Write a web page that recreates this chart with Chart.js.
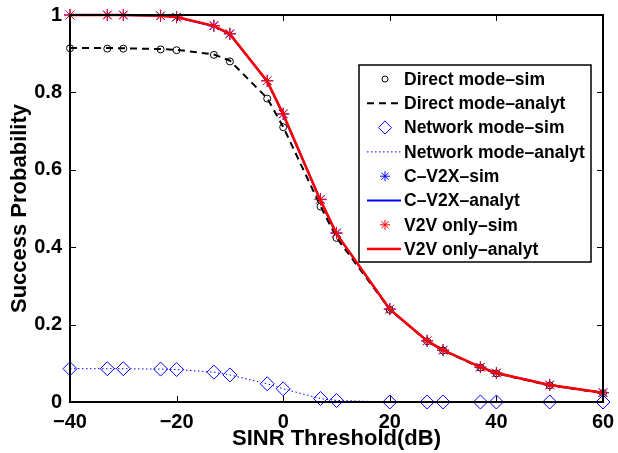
<!DOCTYPE html>
<html>
<head>
<meta charset="utf-8">
<script src="https://cdn.jsdelivr.net/npm/chart.js@4.4.0/dist/chart.umd.min.js"></script>
<style>
  html, body { margin: 0; padding: 0; background: #fff; }
  #wrap { width: 618px; height: 453px; }
</style>
</head>
<body>
<div id="wrap"><canvas id="mycanvas" width="618" height="453"></canvas></div>
<script>
// SINR threshold (dB)
var sinr = [-40, -33, -30, -23, -20, -13, -10, -3, 0, 7, 10, 20, 27, 30, 37, 40, 50, 60];

var directSim    = [0.914, 0.913, 0.913, 0.911, 0.909, 0.897, 0.880, 0.784, 0.710, 0.505, 0.424, 0.238, 0.157, 0.133, 0.089, 0.074, 0.043, 0.023];
var directAnalyt = [0.915, 0.915, 0.914, 0.912, 0.910, 0.898, 0.882, 0.785, 0.711, 0.506, 0.425, 0.239, 0.157, 0.133, 0.089, 0.074, 0.043, 0.023];
var networkSim    = [0.086, 0.086, 0.086, 0.085, 0.084, 0.077, 0.070, 0.047, 0.034, 0.009, 0.004, 0, 0, 0, 0, 0, 0, 0];
var networkAnalyt = [0.086, 0.086, 0.086, 0.085, 0.084, 0.077, 0.070, 0.047, 0.034, 0.009, 0.004, 0, 0, 0, 0, 0, 0, 0];
var cv2xSim    = [1.0, 1.0, 1.0, 0.998, 0.994, 0.972, 0.951, 0.830, 0.744, 0.524, 0.437, 0.240, 0.158, 0.134, 0.090, 0.075, 0.044, 0.024];
var cv2xAnalyt = [1.0, 1.0, 1.0, 0.998, 0.994, 0.971, 0.950, 0.828, 0.742, 0.520, 0.434, 0.239, 0.158, 0.134, 0.090, 0.075, 0.044, 0.024];
var v2vSim    = [1.0, 1.0, 1.0, 0.998, 0.995, 0.973, 0.952, 0.830, 0.745, 0.523, 0.436, 0.240, 0.158, 0.134, 0.090, 0.075, 0.044, 0.024];
var v2vAnalyt = [1.0, 1.0, 1.0, 0.998, 0.995, 0.972, 0.951, 0.829, 0.744, 0.521, 0.435, 0.240, 0.158, 0.134, 0.090, 0.075, 0.044, 0.024];

var xTicks = [-40, -20, 0, 20, 40, 60];
var yTicks = [0, 0.2, 0.4, 0.6, 0.8, 1];

var FONT = '"Liberation Sans", Arial, sans-serif';

function pts(ys) {
    var out = [];
    for (var i in sinr) {
        out.push({x: sinr[i], y: ys[i]});
    }
    return out;
}

function minus(v) {
    return String(v).replace('-', '\u2212');
}

// box + inward ticks on all four sides, like the matlab axes
var boxPlugin = {
    id: 'box',
    afterDraw: function(chart) {
        var ctx = chart.ctx, a = chart.chartArea;
        var xs = chart.scales.x, ys = chart.scales.y;
        ctx.save();
        ctx.strokeStyle = '#000';
        ctx.lineWidth = 2;
        ctx.strokeRect(a.left, a.top, a.right - a.left, a.bottom - a.top);
        ctx.lineWidth = 1;
        ctx.beginPath();
        xTicks.forEach(function(t) {
            var px = Math.round(xs.getPixelForValue(t)) + 0.5;
            ctx.moveTo(px, a.bottom); ctx.lineTo(px, a.bottom - 6);
            ctx.moveTo(px, a.top); ctx.lineTo(px, a.top + 6);
        });
        yTicks.forEach(function(t) {
            var py = Math.round(ys.getPixelForValue(t)) + 0.5;
            ctx.moveTo(a.left, py); ctx.lineTo(a.left + 6, py);
            ctx.moveTo(a.right, py); ctx.lineTo(a.right - 6, py);
        });
        ctx.stroke();
        ctx.restore();
    }
};

// legend drawn inside the plot, matlab style
var legendPlugin = {
    id: 'insideLegend',
    afterDraw: function(chart) {
        var ctx = chart.ctx;
        var bx = 359, by = 65, bw = 232, bh = 197;
        ctx.save();
        ctx.fillStyle = '#fff';
        ctx.fillRect(bx, by, bw, bh);
        ctx.strokeStyle = '#000';
        ctx.lineWidth = 1.5;
        ctx.strokeRect(bx, by, bw, bh);
        var rows = chart.data.datasets.slice().sort(function(p, q) { return p.legendIdx - q.legendIdx; });
        rows.forEach(function(ds, i) {
            var y = by + 14 + i * 24.3;
            if (ds.showLine === false) {
                var r = 3;
                if (ds.pointStyle == 'star') r = 5;
                if (ds.pointStyle == 'rectRot') r = 6.5;
                ctx.strokeStyle = ds.borderColor;
                ctx.fillStyle = ds.pointStyle == 'star' ? ds.borderColor : 'rgba(0,0,0,0)';
                ctx.lineWidth = 1;
                Chart.helpers.drawPoint(ctx, {pointStyle: ds.pointStyle, radius: r, rotation: 0, borderWidth: 1}, 385, y);
            } else {
                ctx.strokeStyle = ds.borderColor;
                ctx.lineWidth = ds.borderWidth;
                ctx.setLineDash(ds.borderDash || []);
                ctx.beginPath();
                ctx.moveTo(367, y);
                ctx.lineTo(401, y);
                ctx.stroke();
                ctx.setLineDash([]);
            }
            ctx.fillStyle = '#000';
            ctx.font = 'bold 17.5px ' + FONT;
            ctx.textBaseline = 'middle';
            ctx.textAlign = 'left';
            ctx.fillText(ds.label, 404, y + 1);
        });
        ctx.restore();
    }
};

var Data = {
    datasets: [
        {
            label: 'V2V only\u2013analyt', legendIdx: 7, order: 0,
            data: pts(v2vAnalyt), borderColor: '#ff0000', backgroundColor: '#ff0000',
            borderWidth: 2.5, pointRadius: 0
        },
        {
            label: 'V2V only\u2013sim', legendIdx: 6, order: 1, showLine: false,
            data: pts(v2vSim), borderColor: '#ff0000', backgroundColor: '#ff0000',
            pointStyle: 'star', pointRadius: 6, pointBorderWidth: 1
        },
        {
            label: 'C\u2013V2X\u2013sim', legendIdx: 4, order: 2, showLine: false,
            data: pts(cv2xSim), borderColor: '#0000ff', backgroundColor: '#0000ff',
            pointStyle: 'star', pointRadius: 6, pointBorderWidth: 1
        },
        {
            label: 'C\u2013V2X\u2013analyt', legendIdx: 5, order: 3,
            data: pts(cv2xAnalyt), borderColor: '#0000ff', backgroundColor: '#0000ff',
            borderWidth: 2, pointRadius: 0
        },
        {
            label: 'Direct mode\u2013sim', legendIdx: 0, order: 4, showLine: false,
            data: pts(directSim), borderColor: '#000', backgroundColor: 'rgba(0,0,0,0)',
            pointStyle: 'circle', pointRadius: 3.5, pointBorderWidth: 1
        },
        {
            label: 'Direct mode\u2013analyt', legendIdx: 1, order: 5,
            data: pts(directAnalyt), borderColor: '#000', backgroundColor: '#000',
            borderWidth: 2, borderDash: [7, 5], pointRadius: 0
        },
        {
            label: 'Network mode\u2013sim', legendIdx: 2, order: 6, showLine: false,
            data: pts(networkSim), borderColor: '#0000ff', backgroundColor: 'rgba(0,0,0,0)',
            pointStyle: 'rectRot', pointRadius: 7, pointBorderWidth: 1
        },
        {
            label: 'Network mode\u2013analyt', legendIdx: 3, order: 7,
            data: pts(networkAnalyt), borderColor: '#0000ff', backgroundColor: '#0000ff',
            borderWidth: 1, borderDash: [1.5, 2.5], pointRadius: 0
        }
    ]
};

var ctx = document.getElementById('mycanvas');
var myNewChart = new Chart(ctx, {
    type: 'line',
    data: Data,
    plugins: [boxPlugin, legendPlugin],
    options: {
        responsive: false,
        animation: false,
        clip: false,
        layout: { padding: { top: 15, right: 15, left: 0, bottom: 0 } },
        plugins: { legend: { display: false }, tooltip: { enabled: false } },
        elements: { line: { tension: 0 } },
        scales: {
            x: {
                type: 'linear', min: -40, max: 60,
                afterFit: function(s) { s.height = 51; },
                afterBuildTicks: function(s) { s.ticks = xTicks.map(function(v) { return {value: v}; }); },
                grid: { display: false },
                border: { display: false },
                ticks: {
                    padding: 0, color: '#000',
                    font: { family: FONT, size: 20, weight: 'bold' },
                    callback: function(v) { return minus(v); }
                },
                title: {
                    display: true, text: 'SINR Threshold(dB)', color: '#000',
                    font: { family: FONT, size: 22, weight: 'bold' },
                    padding: { top: 0, bottom: 1 }
                }
            },
            y: {
                type: 'linear', min: 0, max: 1,
                afterFit: function(s) { s.width = 70; },
                afterBuildTicks: function(s) { s.ticks = yTicks.map(function(v) { return {value: v}; }); },
                grid: { display: false },
                border: { display: false },
                ticks: {
                    padding: 0, color: '#000',
                    font: { family: FONT, size: 20, weight: 'bold' },
                    callback: function(v) { return String(v); }
                },
                title: {
                    display: true, text: 'Success Probability', color: '#000',
                    font: { family: FONT, size: 22, weight: 'bold' },
                    padding: { top: 7, bottom: 0 }
                }
            }
        }
    }
});
</script>
</body>
</html>
